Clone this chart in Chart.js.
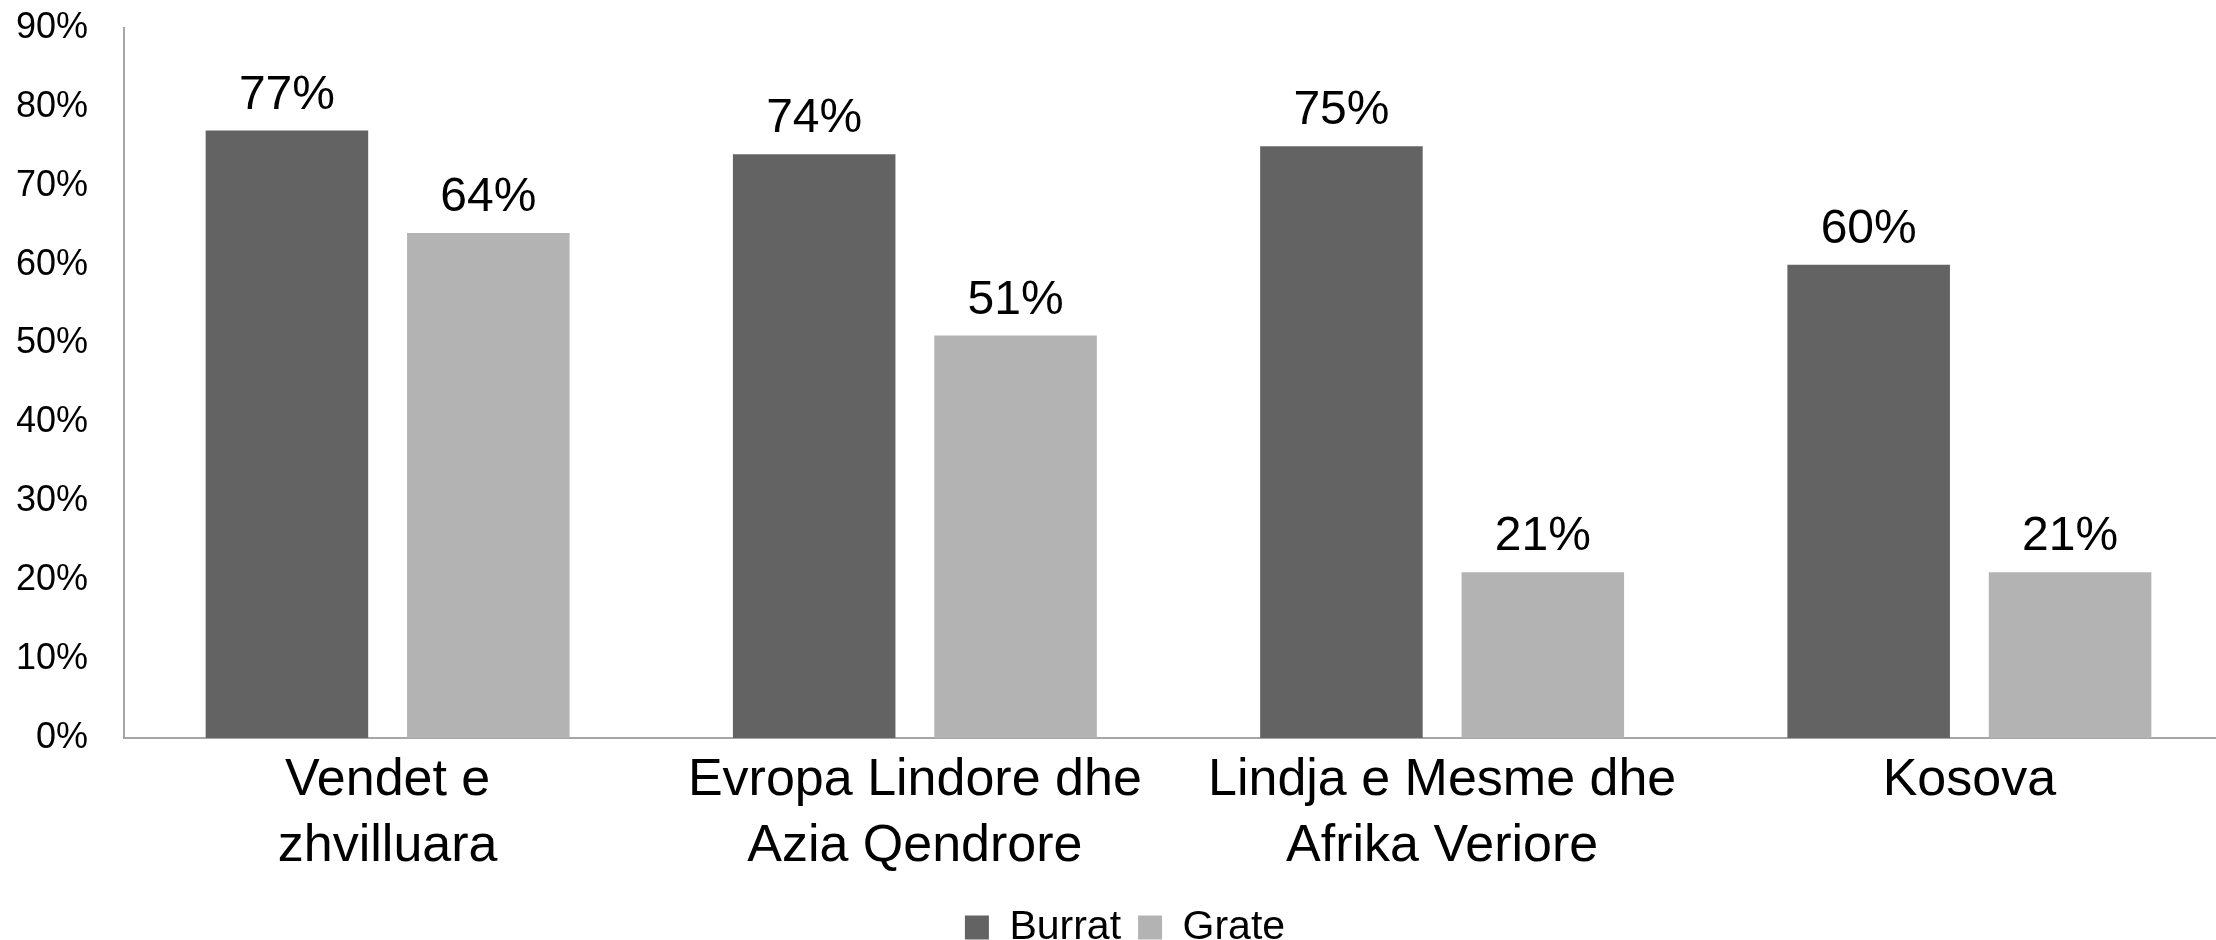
<!DOCTYPE html>
<html>
<head>
<meta charset="utf-8">
<script src="https://cdn.jsdelivr.net/npm/chart.js@4"></script>
<style>
  html, body { margin: 0; padding: 0; background: #fff; overflow: hidden; }
  #wrap { width: 2233px; height: 958px; position: relative; }
</style>
</head>
<body>
<div id="wrap"><canvas id="chart"></canvas></div>
<script>
  // categories (multi-line like the original slide)
  const categories = [
    ["Vendet e", "zhvilluara"],
    ["Evropa Lindore dhe", "Azia Qendrore"],
    ["Lindja e Mesme dhe", "Afrika Veriore"],
    "Kosova"
  ];
  const burrat = [77, 74, 75, 60];
  const grate = [64, 51, 21, 21];
  const yTicks = [0, 10, 20, 30, 40, 50, 60, 70, 80, 90];

  const font = "'Liberation Sans', Arial, sans-serif";

  //draws the % value above each bar
  const valueLabels = {
    id: "valueLabels",
    afterDatasetsDraw(chart) {
      const ctx = chart.ctx;
      ctx.save();
      ctx.font = "48px " + font;
      ctx.fillStyle = "#000";
      ctx.textAlign = "center";
      ctx.textBaseline = "alphabetic";
      chart.data.datasets.forEach((ds, i) => {
        chart.getDatasetMeta(i).data.forEach((bar, j) => {
          ctx.fillText(ds.data[j] + "%", bar.x, bar.y - 22);
        });
      });
      ctx.restore();
    }
  };

  new Chart(document.getElementById("chart"), {
    type: "bar",
    data: {
      labels: categories,
      datasets: [
        { label: "Burrat", data: burrat, backgroundColor: "#636363",
          categoryPercentage: 0.764, barPercentage: 0.807 },
        { label: "Grate", data: grate, backgroundColor: "#b3b3b3",
          categoryPercentage: 0.764, barPercentage: 0.807 }
      ]
    },
    options: {
      responsive: true,
      maintainAspectRatio: false,
      animation: false,
      layout: { padding: { left: 17, top: 0, right: 0, bottom: 0 } },
      scales: {
        x: {
          afterFit: (axis) => { axis.height += 9; },
          grid: { display: false },
          border: { display: true, color: "#a6a6a6", width: 2 },
          ticks: {
            color: "#000",
            font: { family: font, size: 52, lineHeight: 1.28 },
            padding: 1,
            maxRotation: 0,
            autoSkip: false
          }
        },
        y: {
          min: 0,
          max: 90,
          afterBuildTicks: (axis) => { axis.ticks = yTicks.map(v => ({ value: v })); },
          afterFit: (axis) => {
            axis.width = 107;
            axis.paddingTop = 28;
            axis.paddingBottom = 20;
          },
          grid: { display: false, drawTicks: false },
          border: { display: true, color: "#a6a6a6", width: 2 },
          ticks: {
            color: "#000",
            font: { family: font, size: 36 },
            padding: 36,
            callback: (v) => v + "%"
          }
        }
      },
      plugins: {
        legend: {
          position: "bottom",
          labels: {
            color: "#000",
            font: { family: font, size: 41 },
            boxWidth: 24,
            boxHeight: 24,
            padding: 17
          }
        },
        tooltip: { enabled: false }
      }
    },
    plugins: [valueLabels]
  });
</script>
</body>
</html>
